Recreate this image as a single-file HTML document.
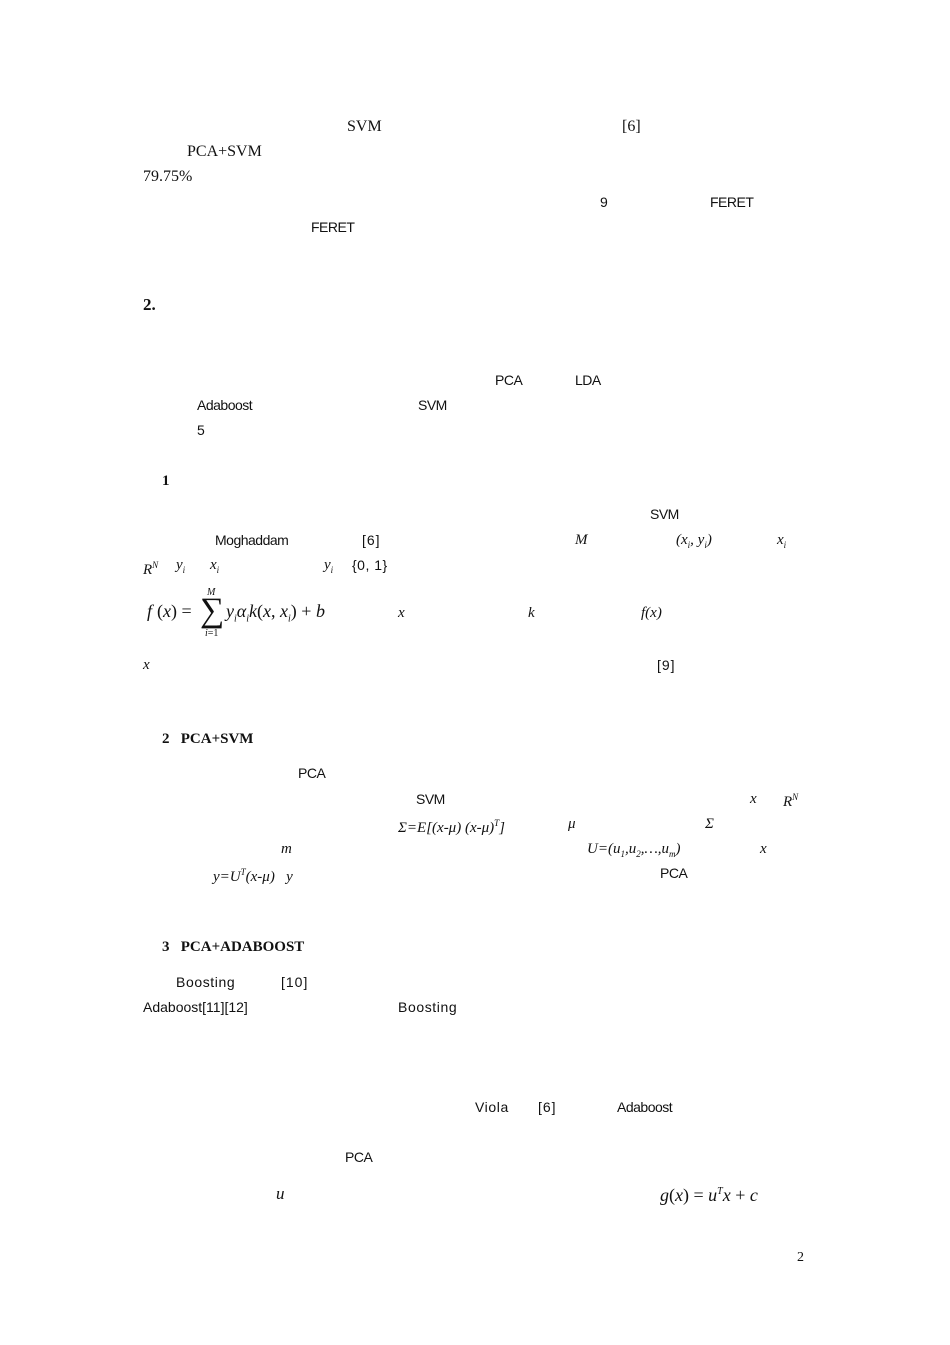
<!DOCTYPE html>
<html><head><meta charset="utf-8"><style>
html,body{margin:0;padding:0;background:#fff;}
body{width:950px;height:1345px;position:relative;overflow:hidden;color:#111;}
.t{position:absolute;white-space:nowrap;font-family:"Liberation Serif",serif;font-size:15px;line-height:18px;}
.s{font-family:"Liberation Sans",sans-serif;font-size:14px;letter-spacing:-0.5px;}
.i{font-style:italic;}
.b{font-weight:bold;}
</style></head><body>
<div class="t" style="left:347px;top:118px;font-size:16px">SVM</div>
<div class="t" style="left:622px;top:118px;font-size:16px">[6]</div>
<div class="t" style="left:187px;top:143px;font-size:16px">PCA+SVM</div>
<div class="t" style="left:143px;top:168px;font-size:16px">79.75%</div>
<div class="t s" style="left:600px;top:193px">9</div>
<div class="t s" style="left:710px;top:193px">FERET</div>
<div class="t s" style="left:311px;top:218px">FERET</div>
<div class="t b" style="left:143px;top:296px;font-size:17px">2.</div>
<div class="t s" style="left:495px;top:371px">PCA</div>
<div class="t s" style="left:575px;top:371px">LDA</div>
<div class="t s" style="left:197px;top:396px">Adaboost</div>
<div class="t s" style="left:418px;top:396px">SVM</div>
<div class="t s" style="left:197px;top:421px">5</div>
<div class="t b" style="left:162px;top:472px">1</div>
<div class="t s" style="left:650px;top:505px">SVM</div>
<div class="t s" style="left:215px;top:531px">Moghaddam</div>
<div class="t s" style="left:362px;top:531px;letter-spacing:1px">[6]</div>
<div class="t i" style="left:575px;top:531px">M</div>
<div class="t i" style="left:676px;top:531px">(x<sub style="font-size:9px">i</sub>, y<sub style="font-size:9px">i</sub>)</div>
<div class="t i" style="left:777px;top:531px">x<sub style="font-size:9px">i</sub></div>
<div class="t i" style="left:143px;top:556px">R<sup style="font-size:9px">N</sup></div>
<div class="t i" style="left:176px;top:556px">y<sub style="font-size:9px">i</sub></div>
<div class="t i" style="left:210px;top:556px">x<sub style="font-size:9px">i</sub></div>
<div class="t i" style="left:324px;top:556px">y<sub style="font-size:9px">i</sub></div>
<div class="t s" style="left:352px;top:556px;letter-spacing:0.5px">{0, 1}</div>
<div class="t i" style="left:147px;top:602px;font-size:18px">f</div>
<div class="t" style="left:157px;top:602px;font-size:18px">(<i>x</i>) =</div>
<div class="t" style="left:200px;top:594px;font-size:34px;line-height:34px">&sum;</div>
<div class="t i" style="left:207px;top:588px;font-size:10px;line-height:10px">M</div>
<div class="t" style="left:205px;top:629px;font-size:10px;line-height:10px"><i>i</i>=1</div>
<div class="t" style="left:226px;top:602px;font-size:18px"><i>y<sub style="font-size:10px">i</sub>&alpha;<sub style="font-size:10px">i</sub>k</i>(<i>x</i>, <i>x<sub style="font-size:10px">i</sub></i>) + <i>b</i></div>
<div class="t i" style="left:398px;top:604px">x</div>
<div class="t i" style="left:528px;top:604px">k</div>
<div class="t i" style="left:641px;top:604px">f(x)</div>
<div class="t i" style="left:143px;top:656px">x</div>
<div class="t s" style="left:657px;top:656px;letter-spacing:1px">[9]</div>
<div class="t b" style="left:162px;top:730px">2&nbsp;&nbsp;&nbsp;PCA+SVM</div>
<div class="t s" style="left:298px;top:764px">PCA</div>
<div class="t s" style="left:416px;top:790px">SVM</div>
<div class="t i" style="left:750px;top:790px">x</div>
<div class="t i" style="left:783px;top:788px">R<sup style="font-size:9px">N</sup></div>
<div class="t i" style="left:398px;top:814px">&Sigma;=E[(x-&mu;) (x-&mu;)<sup style="font-size:9px">T</sup>]</div>
<div class="t i" style="left:568px;top:815px">&mu;</div>
<div class="t i" style="left:705px;top:815px">&Sigma;</div>
<div class="t i" style="left:281px;top:840px">m</div>
<div class="t i" style="left:587px;top:840px">U=(u<sub style="font-size:9px">1</sub>,u<sub style="font-size:9px">2</sub>,&hellip;,u<sub style="font-size:9px">m</sub>)</div>
<div class="t i" style="left:760px;top:840px">x</div>
<div class="t i" style="left:213px;top:863px">y=U<sup style="font-size:9px">T</sup>(x-&mu;)&nbsp;&nbsp;&nbsp;y</div>
<div class="t s" style="left:660px;top:864px">PCA</div>
<div class="t b" style="left:162px;top:938px">3&nbsp;&nbsp;&nbsp;PCA+ADABOOST</div>
<div class="t s" style="left:176px;top:973px;letter-spacing:0.6px">Boosting</div>
<div class="t s" style="left:281px;top:973px;letter-spacing:1px">[10]</div>
<div class="t s" style="left:143px;top:998px;letter-spacing:0px">Adaboost[11][12]</div>
<div class="t s" style="left:398px;top:998px;letter-spacing:0.6px">Boosting</div>
<div class="t s" style="left:475px;top:1098px;letter-spacing:0.6px">Viola</div>
<div class="t s" style="left:538px;top:1098px;letter-spacing:1px">[6]</div>
<div class="t s" style="left:617px;top:1098px">Adaboost</div>
<div class="t s" style="left:345px;top:1148px">PCA</div>
<div class="t i" style="left:276px;top:1185px;font-size:17px">u</div>
<div class="t" style="left:660px;top:1183px;font-size:18px"><i>g</i>(<i>x</i>) = <i>u<sup style="font-size:10px">T</sup>x</i> + <i>c</i></div>
<div class="t" style="left:797px;top:1249px;font-size:14px">2</div>
</body></html>
